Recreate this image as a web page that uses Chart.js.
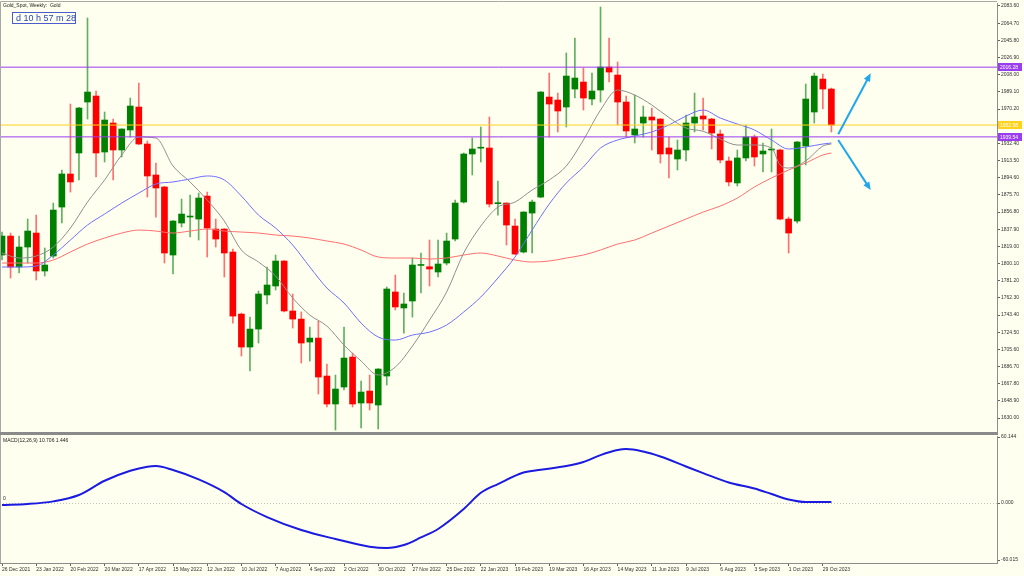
<!DOCTYPE html>
<html>
<head>
<meta charset="utf-8">
<script src="https://cdn.jsdelivr.net/npm/chart.js@4.4.0/dist/chart.umd.min.js"></script>
<style>
  body { margin: 0; background: #fffff0; }
  #wrap { position: relative; width: 1024px; height: 576px; overflow: hidden; background: #fffff0; }
  canvas { position: absolute; left: 0; }
  #mainChart { top: 0; }
  #macdChart { top: 432px; }
</style>
</head>
<body>
<div id="wrap">
  <canvas id="mainChart" width="1024" height="433"></canvas>
  <canvas id="macdChart" width="1024" height="144"></canvas>
</div>
<script>
// weekly gold candles, one per week starting 26 Dec 2021
const opens  = [1809.5,1830.4,1796.3,1818.3,1833.7,1791.9,1808.4,1862.3,1898.7,1921.8,1977.9,1984.5,1922.9,1954.8,1925.1,1947.1,1972.4,1931.7,1897.6,1884.4,
                1809.5,1844.7,1851.3,1849.1,1874.4,1838.1,1838.1,1812.8,1744.5,1708.2,1728.0,1765.5,1775.4,1802.9,1747.9,1739.0,1713.7,1718.1,1676.3,1645.5,
                1664.2,1697.2,1646.6,1659.8,1644.4,1676.3,1768.8,1751.2,1758.9,1798.0,1796.6,1790.8,1800.7,1827.1,1867.8,1920.7,1927.1,1927.3,1866.0,1866.7,
                1841.4,1812.8,1855.7,1873.3,1983.4,1980.1,1972.4,1992.2,1999.9,1981.2,1991.1,2016.4,2007.6,1977.9,1941.6,1954.8,1961.4,1959.2,1927.3,1915.2,
                1925.1,1954.8,1962.5,1959.2,1942.7,1913.0,1888.8,1916.3,1939.4,1920.7,1925.1,1925.1,1849.1,1846.9,1929.5,1966.9,2003.2,1992.2];
const highs  = [1834.8,1833.7,1830.4,1849.1,1853.5,1817.2,1866.7,1903.1,1975.7,1972.0,2070.4,1990.0,1966.9,1959.2,1948.5,1982.3,1998.8,1935.0,1910.8,1885.0,
                1847.5,1871.1,1875.5,1877.7,1878.8,1849.1,1838.5,1816.1,1745.6,1741.2,1769.9,1796.3,1809.5,1803.5,1766.6,1746.8,1730.2,1736.8,1689.5,1677.4,
                1730.2,1701.6,1670.8,1677.4,1684.5,1774.3,1787.5,1767.7,1806.2,1811.7,1826.0,1826.0,1833.7,1870.0,1921.8,1938.3,1950.4,1961.4,1891.0,1867.0,
                1849.1,1857.3,1870.0,1989.5,2009.8,1987.8,2031.9,2048.4,2015.3,2009.8,2082.5,2048.4,2022.0,1984.5,1985.6,1973.5,1971.3,1959.5,1939.4,1936.1,
                1963.6,1987.8,1982.3,1960.0,1947.1,1917.4,1925.1,1952.6,1941.6,1932.8,1948.2,1926.0,1851.3,1934.5,1997.7,2009.8,2008.7,1993.3];
const lows   = [1804.0,1784.2,1789.7,1800.7,1782.0,1786.4,1806.2,1844.7,1878.8,1892.1,1959.2,1895.4,1911.9,1892.1,1917.4,1939.4,1931.0,1873.3,1851.3,1800.7,
                1788.6,1840.3,1829.3,1826.0,1807.3,1818.3,1785.3,1734.6,1698.3,1681.8,1712.6,1755.6,1771.0,1747.0,1729.1,1690.6,1692.8,1656.5,1642.2,1616.9,
                1660.9,1642.2,1619.1,1638.9,1618.0,1666.4,1749.0,1723.6,1741.2,1767.7,1775.4,1785.3,1798.5,1824.9,1866.7,1897.6,1911.9,1862.3,1853.5,1820.5,
                1810.0,1811.7,1811.7,1872.5,1939.4,1944.9,1950.4,1982.3,1969.1,1974.6,1977.9,1999.9,1952.6,1939.4,1932.8,1939.4,1925.1,1910.8,1894.3,1903.1,
                1913.0,1944.9,1947.1,1926.2,1910.8,1885.5,1885.5,1913.0,1907.5,1900.9,1900.9,1848.0,1811.7,1844.7,1908.6,1954.8,1970.2,1944.9];
const closes = [1830.4,1796.3,1818.3,1835.9,1791.9,1798.5,1859.0,1898.7,1889.9,1971.3,1988.9,1921.8,1958.1,1925.1,1948.2,1973.5,1931.7,1896.5,1883.3,1811.7,
                1846.9,1854.6,1852.3,1872.2,1839.2,1827.1,1811.7,1742.3,1708.2,1728.0,1766.6,1776.5,1802.9,1747.9,1739.0,1712.6,1718.1,1675.2,1645.5,1662.0,
                1696.1,1645.5,1658.7,1646.6,1684.0,1772.1,1752.3,1755.6,1798.5,1798.5,1794.1,1799.6,1824.9,1866.7,1920.7,1926.2,1928.2,1865.6,1866.7,1842.5,
                1810.6,1856.8,1867.8,1988.9,1975.7,1968.0,2006.5,2004.3,1982.3,1990.0,2016.4,2010.9,1977.9,1946.0,1948.2,1961.4,1958.1,1920.7,1920.7,1925.1,
                1954.8,1961.4,1959.2,1943.8,1914.1,1889.9,1916.3,1939.4,1917.4,1924.0,1926.2,1849.1,1833.7,1933.9,1981.2,2006.5,1992.2,1952.6];

// moving averages, read every other week
const fastMaWeeks  = [0,2,4,6,8,10,12,14,16,18,20,22,24,26,28,30,32,34,36,38,40,42,44,46,48,50,52,54,56,58,60,62,64,66,68,70,72,74,76,78,80,82,84,86,88,90,91,92,94,96,97];
const fastMaValues = [1811.7,1806.2,1808.4,1818.3,1839.2,1867.8,1892.1,1919.6,1939.4,1938.3,1907.5,1889.9,1870.0,1846.9,1815.0,1801.8,1786.4,1762.2,1743.4,1731.3,
                      1710.4,1692.8,1677.4,1686.2,1709.3,1737.9,1768.8,1811.7,1841.4,1862.3,1867.8,1881.1,1892.1,1907.5,1936.1,1969.1,1991.1,1985.6,1974.6,1960.9,
                      1949.3,1945.7,1937.2,1930.6,1930.6,1927.3,1908.6,1905.3,1913.0,1929.5,1931.7];
const midMaWeeks   = [0,2,4,6,8,10,12,14,16,18,20,22,24,26,28,30,32,34,36,38,40,42,44,46,48,50,52,54,56,58,60,62,64,66,68,70,72,74,76,78,80,82,84,86,88,90,92,94,96,97];
const midMaValues  = [1796.3,1796.3,1797.4,1809.5,1826.0,1842.5,1854.6,1866.7,1877.7,1887.7,1889.9,1893.2,1896.5,1892.1,1874.4,1853.5,1839.2,1820.5,1796.3,1773.2,
                      1756.7,1734.6,1719.2,1715.9,1721.4,1724.7,1732.5,1746.8,1763.3,1784.2,1807.3,1837.0,1865.6,1888.8,1906.4,1927.3,1936.1,1940.5,1944.9,1952.6,
                      1962.5,1969.1,1960.3,1953.7,1947.1,1936.1,1926.2,1928.4,1931.7,1932.8];
const slowMaWeeks  = [0,2,4,6,8,10,12,14,16,18,20,22,24,26,28,30,32,34,36,38,40,42,44,46,48,50,52,54,56,58,60,62,64,66,68,70,72,74,76,78,80,82,84,86,88,90,92,94,96,97];
const slowMaValues = [1800.7,1800.7,1800.7,1804.0,1812.8,1821.6,1828.2,1833.7,1837.0,1835.9,1833.7,1835.9,1838.1,1835.9,1834.8,1833.7,1831.5,1830.4,1828.2,1824.9,
                      1821.6,1815.0,1807.3,1806.2,1806.2,1805.1,1806.2,1809.5,1811.7,1808.4,1804.0,1801.8,1802.9,1806.2,1809.5,1815.0,1821.6,1826.0,1833.7,1841.4,
                      1849.1,1856.8,1863.4,1872.2,1884.4,1894.3,1903.1,1910.8,1919.6,1921.8];

// MACD main line
const macdWeeks  = [0,3,6,9,12,15,17,18,20,23,26,28,31,35,39,43,45,47,49,51,54,56,58,61,63,66,68,70,72,73,75,77,80,82,85,88,90,92,94,97];
const macdValues = [-1.8,-0.9,1.5,7.3,20.3,29.4,33.1,33.7,30.1,21.6,10.0,-0.9,-12.8,-24.6,-32.8,-39.8,-41.0,-38.3,-31.4,-23.7,
                    -5.5,9.3,17.3,27.8,30.3,33.7,37.4,43.7,48.3,49.2,46.9,42.4,33.3,27.3,18.7,13.2,8.2,3.2,0.9,0.9];

const weekTicks = ['26 Dec 2021','23 Jan 2022','20 Feb 2022','20 Mar 2022','17 Apr 2022','15 May 2022','12 Jun 2022','10 Jul 2022',
                   '7 Aug 2022','4 Sep 2022','2 Oct 2022','30 Oct 2022','27 Nov 2022','25 Dec 2022','22 Jan 2023','19 Feb 2023',
                   '19 Mar 2023','16 Apr 2023','14 May 2023','11 Jun 2023','9 Jul 2023','6 Aug 2023','3 Sep 2023','1 Oct 2023','29 Oct 2023'];
const priceTicks = [2083.6,2064.7,2045.8,2026.9,2008.0,1989.1,1970.2,1951.3,1932.4,1913.5,1894.6,1875.7,1856.8,1837.9,1819.0,
                    1800.1,1781.2,1762.3,1743.4,1724.5,1705.6,1686.7,1667.8,1648.9,1630.0];
const macdTicks = [60.144, 0, -52];
const macdTickText = ['60.144', '0.000', '-60.015'];

const levelLines = [2016.28, 1939.54];
const bidPrice = 1952.58;

// drawn arrows [week, price] -> [week, price]
const arrows = [
  [97.8, 1942.4, 101.6, 2009.5],
  [97.8, 1936.1, 101.6, 1881.0]
];

const X_MIN = -0.234, X_MAX = 116.37;
const FONT = "'Liberation Sans', Arial, sans-serif";
const AXIS = '#8c8c8c';

const weeks = opens.map((_, i) => i);
const isUp = weeks.map(i => closes[i] >= opens[i]);

const pts = (ws, vs) => ws.map((w, k) => ({ x: w, y: vs[k] }));
const hLine = (v, color) => ({
  type: 'line', data: [{ x: X_MIN, y: v }, { x: X_MAX, y: v }],
  borderColor: color, borderWidth: 1, pointRadius: 0, order: 0
});
const maLine = (ws, vs, color) => ({
  type: 'line', data: pts(ws, vs), borderColor: color, borderWidth: 1,
  pointRadius: 0, cubicInterpolationMode: 'monotone', order: 1
});

const mainOverlay = {
  id: 'mainOverlay',
  afterDraw(chart) {
    const { ctx, scales: { x, y } } = chart;
    ctx.save();

    // frame
    ctx.strokeStyle = '#a8a8a8';
    ctx.lineWidth = 1;
    ctx.beginPath();
    ctx.moveTo(0.5, 433); ctx.lineTo(0.5, 1.5); ctx.lineTo(997, 1.5);
    ctx.stroke();

    // arrows
    ctx.strokeStyle = '#1fa6ee';
    ctx.fillStyle = '#1fa6ee';
    ctx.lineWidth = 2;
    arrows.forEach(a => {
      const x0 = x.getPixelForValue(a[0]), y0 = y.getPixelForValue(a[1]);
      const x1 = x.getPixelForValue(a[2]), y1 = y.getPixelForValue(a[3]);
      const ang = Math.atan2(y1 - y0, x1 - x0);
      ctx.beginPath(); ctx.moveTo(x0, y0); ctx.lineTo(x1 - 5 * Math.cos(ang), y1 - 5 * Math.sin(ang)); ctx.stroke();
      ctx.beginPath();
      ctx.moveTo(x1, y1);
      ctx.lineTo(x1 - 8 * Math.cos(ang) + 3.5 * Math.sin(ang), y1 - 8 * Math.sin(ang) - 3.5 * Math.cos(ang));
      ctx.lineTo(x1 - 8 * Math.cos(ang) - 3.5 * Math.sin(ang), y1 - 8 * Math.sin(ang) + 3.5 * Math.cos(ang));
      ctx.closePath(); ctx.fill();
    });

    // price tags on the axis
    ctx.font = '5px ' + FONT;
    ctx.textBaseline = 'middle';
    const tags = [[levelLines[0], '#9a3cf0'], [bidPrice, '#ffd21e'], [levelLines[1], '#9a3cf0']];
    tags.forEach(([v, c]) => {
      const py = Math.round(y.getPixelForValue(v));
      ctx.fillStyle = c;
      ctx.fillRect(998, py - 4, 24, 8);
      ctx.fillStyle = '#ffffff';
      ctx.fillText(v.toFixed(2), 1000, py + 0.5);
    });

    // title and timer
    ctx.fillStyle = '#202020';
    ctx.fillText('Gold_Spot, Weekly:  Gold', 3, 6);
    ctx.strokeStyle = '#4c5ccc';
    ctx.lineWidth = 1;
    ctx.fillStyle = '#fffff0';
    ctx.fillRect(12.5, 12.5, 63, 11);
    ctx.strokeRect(12.5, 12.5, 63, 11);
    ctx.beginPath(); ctx.rect(13, 13, 62, 10); ctx.clip();
    ctx.fillStyle = '#2846b8';
    ctx.font = '9px ' + FONT;
    ctx.fillText('d 10 h 57 m 28 s', 16, 18.5);
    ctx.restore();
  }
};

new Chart(document.getElementById('mainChart'), {
  type: 'line',
  data: {
    datasets: [
      hLine(levelLines[0], '#9a3cf0'),
      hLine(levelLines[1], '#9a3cf0'),
      hLine(bidPrice, '#ffd21e'),
      maLine(fastMaWeeks, fastMaValues, '#8e8e8e'),
      maLine(midMaWeeks, midMaValues, '#6e6eff'),
      maLine(slowMaWeeks, slowMaValues, '#ff6e6e'),
      {
        type: 'bar', order: 2, grouped: false, barThickness: 6, minBarLength: 1, borderWidth: 0,
        data: weeks.map(i => ({ x: i, y: [opens[i], closes[i]] })),
        backgroundColor: weeks.map(i => isUp[i] ? '#008000' : '#ff0000')
      },
      {
        type: 'bar', order: 3, grouped: false, barThickness: 1, borderWidth: 0,
        data: weeks.map(i => ({ x: i, y: [lows[i], highs[i]] })),
        backgroundColor: weeks.map(i => isUp[i] ? '#60b060' : '#ff7070')
      }
    ]
  },
  options: {
    responsive: false,
    devicePixelRatio: 1,
    animation: false,
    events: [],
    layout: { padding: { top: 3, bottom: 1, left: 0, right: 0 } },
    plugins: { legend: { display: false }, tooltip: { enabled: false } },
    scales: {
      x: { type: 'linear', min: X_MIN, max: X_MAX, display: false, offset: false, grid: { offset: false } },
      y: {
        position: 'right', min: 1614.7, max: 2086.9,
        afterBuildTicks: s => { s.ticks = priceTicks.map(v => ({ value: v })); },
        afterFit: s => { s.width = 27; s.paddingTop = 0; s.paddingBottom = 0; },
        ticks: { autoSkip: false, padding: 1, color: '#303030', font: { family: FONT, size: 5 }, callback: v => v.toFixed(2) },
        grid: { drawOnChartArea: false, tickLength: 3, color: '#606060' },
        border: { color: AXIS, width: 1 }
      }
    }
  },
  plugins: [mainOverlay]
});

const macdOverlay = {
  id: 'macdOverlay',
  beforeDatasetsDraw(chart) {
    const { ctx, chartArea, scales: { y } } = chart;
    ctx.save();
    const py = Math.round(y.getPixelForValue(0)) + 0.5;
    ctx.strokeStyle = '#c4c4b4';
    ctx.setLineDash([1, 2]);
    ctx.beginPath(); ctx.moveTo(chartArea.left, py); ctx.lineTo(chartArea.right, py); ctx.stroke();
    ctx.restore();
  },
  afterDraw(chart) {
    const { ctx, scales: { y } } = chart;
    ctx.save();
    ctx.fillStyle = '#8a8a8a';
    ctx.fillRect(0, 0, 998, 3);
    ctx.strokeStyle = '#a8a8a8';
    ctx.beginPath(); ctx.moveTo(0.5, 3); ctx.lineTo(0.5, 131); ctx.stroke();
    ctx.font = '5px ' + FONT;
    ctx.textBaseline = 'middle';
    ctx.fillStyle = '#202020';
    ctx.fillText('MACD(12,26,9) 10.706 1.446', 3, 9);
    ctx.fillText('0', 3, y.getPixelForValue(0) - 4);
    ctx.restore();
  }
};

new Chart(document.getElementById('macdChart'), {
  type: 'line',
  data: {
    datasets: [{
      data: pts(macdWeeks, macdValues),
      borderColor: '#1a1ae0', borderWidth: 2, pointRadius: 0, cubicInterpolationMode: 'monotone'
    }]
  },
  options: {
    responsive: false,
    devicePixelRatio: 1,
    animation: false,
    events: [],
    layout: { padding: { top: 4, bottom: 0, left: 0, right: 0 } },
    plugins: { legend: { display: false }, tooltip: { enabled: false } },
    scales: {
      x: {
        type: 'linear', min: X_MIN, max: X_MAX, offset: false,
        afterBuildTicks: s => { s.ticks = weekTicks.map((_, k) => ({ value: k * 4 })); },
        afterFit: s => { s.height = 13; s.paddingLeft = 0; s.paddingRight = 0; },
        ticks: { autoSkip: false, maxRotation: 0, align: 'start', padding: 1, color: '#303030',
                 font: { family: FONT, size: 5 }, callback: v => weekTicks[Math.round(v / 4)] },
        grid: { drawOnChartArea: false, tickLength: 3, color: '#606060', offset: false },
        border: { color: AXIS, width: 1 }
      },
      y: {
        position: 'right', min: -54.7, max: 61.1,
        afterBuildTicks: s => { s.ticks = macdTicks.map(v => ({ value: v })); },
        afterFit: s => { s.width = 27; s.paddingTop = 0; s.paddingBottom = 0; },
        ticks: { autoSkip: false, padding: 1, color: '#303030', font: { family: FONT, size: 5 },
                 callback: (v, k) => macdTickText[k] },
        grid: { drawOnChartArea: false, tickLength: 3, color: '#606060' },
        border: { color: AXIS, width: 1 }
      }
    }
  },
  plugins: [macdOverlay]
});
</script>
</body>
</html>
